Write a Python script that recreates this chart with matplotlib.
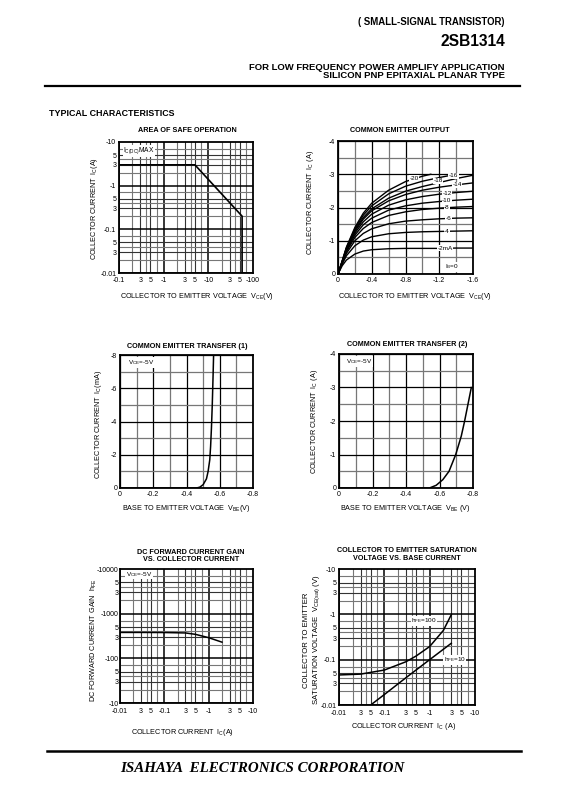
import matplotlib
matplotlib.use("Agg")
import matplotlib.pyplot as plt
from matplotlib.lines import Line2D

plt.rcParams['font.family'] = ['Liberation Sans', 'DejaVu Sans']
plt.rcParams['mathtext.fontset'] = 'custom'
plt.rcParams['mathtext.rm'] = 'Liberation Sans'
plt.rcParams['mathtext.it'] = 'Liberation Sans'

# ---------------- data ----------------
# Area of safe operation
soa_vce = [0.1, 5, 57, 57]
soa_ic = [3, 3, 0.2, 0.01]

# Common emitter output (Vce in V, Ic in A) for each Ib (mA)
ceo_v = [0, 0.05, 0.1, 0.2, 0.3, 0.4, 0.6, 0.8, 1.0, 1.2, 1.4, 1.6]
ceo_ib0 = [0] * 12
ceo_ib2 = [0, 0.25, 0.42, 0.60, 0.69, 0.73, 0.76, 0.77, 0.77, 0.77, 0.78, 0.78]
ceo_ib4 = [0, 0.30, 0.55, 0.85, 1.02, 1.12, 1.21, 1.25, 1.27, 1.28, 1.29, 1.30]
ceo_ib6 = [0, 0.32, 0.62, 1.00, 1.22, 1.36, 1.51, 1.59, 1.63, 1.66, 1.68, 1.69]
ceo_ib8 = [0, 0.34, 0.67, 1.10, 1.37, 1.55, 1.76, 1.87, 1.94, 1.98, 2.01, 2.03]
ceo_ib10 = [0, 0.35, 0.70, 1.17, 1.48, 1.68, 1.92, 2.05, 2.13, 2.18, 2.22, 2.25]
ceo_ib12 = [0, 0.36, 0.73, 1.23, 1.57, 1.80, 2.07, 2.23, 2.33, 2.40, 2.45, 2.49]
ceo_ib14 = [0, 0.37, 0.75, 1.28, 1.65, 1.90, 2.20, 2.39, 2.52, 2.61, 2.68, 2.74]
ceo_ib16 = [0, 0.38, 0.77, 1.32, 1.70, 1.96, 2.28, 2.49, 2.63, 2.75, 2.87, 2.97]
ceo_v18 = [0, 0.05, 0.1, 0.2, 0.3, 0.4, 0.6, 0.8, 1.0, 1.2, 1.4]
ceo_ib18 = [0, 0.39, 0.79, 1.36, 1.77, 2.05, 2.41, 2.64, 2.79, 2.90, 3.00]
ceo_v20 = [0, 0.05, 0.1, 0.2, 0.3, 0.4, 0.6, 0.8, 1.0, 1.1]
ceo_ib20 = [0, 0.40, 0.81, 1.40, 1.83, 2.13, 2.52, 2.78, 2.94, 3.00]
ceo_labels = ['-20', '-18', '-16', '-14', '-12', '-10', '-8', '-6', '-4', '-2mA', r'I$_{\mathrm{B}}$=0']
ceo_label_v = [0.90, 1.19, 1.37, 1.41, 1.29, 1.29, 1.29, 1.31, 1.29, 1.27, 1.35]
ceo_label_i = [2.88, 2.81, 2.95, 2.68, 2.43, 2.20, 2.00, 1.68, 1.29, 0.77, 0.22]

# Common emitter transfer (1): Vbe (V), Ic (mA)
cet1_vbe = [0.0, 0.46, 0.48, 0.50, 0.52, 0.53, 0.54, 0.545, 0.55, 0.555, 0.56, 0.563]
cet1_ic = [0.0, 0.0, 0.05, 0.2, 0.55, 1.0, 1.7, 2.5, 3.6, 5.0, 6.8, 8.0]

# Common emitter transfer (2): Vbe (V), Ic (A)
cet2_vbe = [0.0, 0.54, 0.58, 0.62, 0.657, 0.697, 0.73, 0.75, 0.77, 0.79]
cet2_ic = [0.0, 0.0, 0.08, 0.25, 0.5, 1.0, 1.55, 2.0, 2.5, 3.0]

# DC current gain: Ic (A), hFE
hfe_ic = [0.01, 0.03, 0.1, 0.3, 0.5, 1.0, 2.0]
hfe_val = [380, 380, 378, 370, 345, 290, 230]

# Vce(sat): Ic (A), Vce(sat) (V)
sat100_ic = [0.01, 0.03, 0.1, 0.3, 0.5, 1.0, 2.0, 3.0]
sat100_v = [0.046, 0.048, 0.059, 0.09, 0.12, 0.195, 0.44, 0.98]
sat10_ic = [0.05, 0.1, 0.3, 1.0, 3.0]
sat10_v = [0.01, 0.017, 0.04, 0.1, 0.23]

# tick labels
log_x_soa = [0.1, 0.3, 0.5, 1, 3, 5, 10, 30, 50, 100]
log_x_soa_lab = ['-0.1', '3', '5', '-1', '3', '5', '-10', '3', '5', '-100']
log_y_soa = [0.01, 0.03, 0.05, 0.1, 0.3, 0.5, 1, 3, 5, 10]
log_y_soa_lab = ['-0.01', '3', '5', '-0.1', '3', '5', '-1', '3', '5', '-10']
log_x_ic = [0.01, 0.03, 0.05, 0.1, 0.3, 0.5, 1, 3, 5, 10]
log_x_ic_lab = ['-0.01', '3', '5', '-0.1', '3', '5', '-1', '3', '5', '-10']
log_y_hfe = [10, 30, 50, 100, 300, 500, 1000, 3000, 5000, 10000]
log_y_hfe_lab = ['-10', '3', '5', '-100', '3', '5', '-1000', '3', '5', '-10000']

# ---------------- figure ----------------
W, H = 565, 792
fig = plt.figure(figsize=(W / 100, H / 100), dpi=100)


def ax_at(x0, y0, x1, y1):
    return fig.add_axes([x0 / W, 1 - y1 / H, (x1 - x0) / W, (y1 - y0) / H])


def txt(x, y, s, **kw):
    fig.text(x / W, 1 - y / H, s, **kw)


def hline(x0, x1, y, lw):
    fig.add_artist(Line2D([x0 / W, x1 / W], [1 - y / H, 1 - y / H], color='black', lw=lw))


def style(ax):
    for sp in ax.spines.values():
        sp.set_linewidth(1.3)
        sp.set_zorder(5)
    ax.tick_params(which='both', length=0, pad=2, labelsize=5.0)
    ax.set_axisbelow(True)


MINORS = [2, 3, 4, 5, 7]


def loggrid(ax, xd, yd):
    for d in xd:
        ax.axvline(d, color='black', lw=1.1, zorder=1)
        for m in MINORS:
            ax.axvline(d * m, color='#333333' if m in (3, 5) else '#777777', lw=0.8, zorder=1)
    for d in yd:
        ax.axhline(d, color='black', lw=1.1, zorder=1)
        for m in MINORS:
            ax.axhline(d * m, color='#333333' if m in (3, 5) else '#777777', lw=0.8, zorder=1)


def lingrid(ax, xs, ys, xmaj, ymaj):
    for i, v in enumerate(xs):
        ax.axvline(v, color='black' if i % xmaj == 0 else '#777777', lw=0.9, zorder=1)
    for i, v in enumerate(ys):
        ax.axhline(v, color='black' if i % ymaj == 0 else '#777777', lw=0.9, zorder=1)


TFS = 5.2
LFS = 5.2

# ---- header ----
txt(505, 22, '( SMALL-SIGNAL TRANSISTOR)', ha='right', va='center', fontsize=6.9, fontweight='bold')
txt(505, 42, '2SB1314', ha='right', va='center', fontsize=11.2, fontweight='bold')
txt(505, 67, 'FOR LOW FREQUENCY POWER AMPLIFY APPLICATION', ha='right', va='center', fontsize=6.8, fontweight='bold')
txt(505, 76, 'SILICON PNP EPITAXIAL PLANAR TYPE', ha='right', va='center', fontsize=6.8, fontweight='bold')
hline(45, 520, 85.5, 1.6)
txt(49, 113, 'TYPICAL CHARACTERISTICS', ha='left', va='center', fontsize=6.4, fontweight='bold')

# ---- 1: SOA ----
ax1 = ax_at(119, 142, 253, 273)
style(ax1)
ax1.set_xscale('log'); ax1.set_yscale('log')
ax1.set_xlim(0.1, 100); ax1.set_ylim(0.01, 10)
loggrid(ax1, [0.1, 1, 10], [0.01, 0.1, 1])
ax1.plot(soa_vce, soa_ic, color='black', lw=1.2, zorder=3)
ax1.set_xticks(log_x_soa, log_x_soa_lab); ax1.minorticks_off()
ax1.set_yticks(log_y_soa, log_y_soa_lab); ax1.minorticks_off()
ax1.tick_params(axis='x', pad=3)
ax1.text(0.125, 6.2, r'I$_{\mathrm{C(DC)}}$MAX', fontsize=4.8, va='center', ha='left',
         bbox=dict(facecolor='white', edgecolor='none', pad=0.5), zorder=4)
txt(187, 131, 'AREA OF SAFE OPERATION', ha='center', va='center', fontsize=TFS, fontweight='bold')
txt(197, 296, r'COLLECTOR TO EMITTER VOLTAGE  V$_{\mathrm{CE}}$(V)', ha='center', va='center', fontsize=LFS)
txt(94, 208, r'COLLECTOR CURRENT  I$_{\mathrm{C}}$(A)', ha='center', va='center', fontsize=LFS, rotation=90)

# ---- 2: CE output ----
ax2 = ax_at(338, 141, 473, 274)
style(ax2)
ax2.set_xlim(0, 1.6); ax2.set_ylim(0, 4)
lingrid(ax2, [0.2 * i for i in range(9)], [0.5 * i for i in range(9)], 2, 2)
curves = [(ceo_v, ceo_ib0), (ceo_v, ceo_ib2), (ceo_v, ceo_ib4), (ceo_v, ceo_ib6), (ceo_v, ceo_ib8),
          (ceo_v, ceo_ib10), (ceo_v, ceo_ib12), (ceo_v, ceo_ib14), (ceo_v, ceo_ib16),
          (ceo_v18, ceo_ib18), (ceo_v20, ceo_ib20)]
for xv, yv in curves:
    ax2.plot(xv, yv, color='black', lw=1.0, zorder=3)
for s, xv, yv in zip(ceo_labels, ceo_label_v, ceo_label_i):
    ax2.text(xv, yv, s, fontsize=4.6, ha='center', va='center', zorder=4,
             bbox=dict(facecolor='white', edgecolor='none', pad=0.3))
ax2.set_xticks([0, 0.4, 0.8, 1.2, 1.6], ['0', '-0.4', '-0.8', '-1.2', '-1.6'])
ax2.set_yticks([0, 1, 2, 3, 4], ['0', '-1', '-2', '-3', '-4'])
txt(400, 130, 'COMMON EMITTER OUTPUT', ha='center', va='center', fontsize=TFS, fontweight='bold')
txt(415, 296, r'COLLECTOR TO EMITTER VOLTAGE  V$_{\mathrm{CE}}$(V)', ha='center', va='center', fontsize=LFS)
txt(311, 202, r'COLLECTOR CURRENT  I$_{\mathrm{C}}$ (A)', ha='center', va='center', fontsize=LFS, rotation=90)

# ---- 3: CE transfer (1) ----
ax3 = ax_at(120, 355, 253, 488)
style(ax3)
ax3.set_xlim(0, 0.8); ax3.set_ylim(0, 8)
lingrid(ax3, [0.1 * i for i in range(9)], [1.0 * i for i in range(9)], 2, 2)
ax3.plot(cet1_vbe, cet1_ic, color='black', lw=1.1, zorder=3)
ax3.set_xticks([0, 0.2, 0.4, 0.6, 0.8], ['0', '-0.2', '-0.4', '-0.6', '-0.8'])
ax3.set_yticks([0, 2, 4, 6, 8], ['0', '-2', '-4', '-6', '-8'])
ax3.text(0.05, 7.55, r'V$_{\mathrm{CE}}$=-5V', fontsize=4.6, ha='left', va='center', zorder=4,
         bbox=dict(facecolor='white', edgecolor='none', pad=0.5))
txt(187, 346, 'COMMON EMITTER TRANSFER (1)', ha='center', va='center', fontsize=TFS, fontweight='bold')
txt(186, 509, r'BASE TO EMITTER VOLTAGE  V$_{\mathrm{BE}}$(V)', ha='center', va='center', fontsize=LFS)
txt(98, 424, r'COLLECTOR CURRENT  I$_{\mathrm{C}}$(mA)', ha='center', va='center', fontsize=LFS, rotation=90)

# ---- 4: CE transfer (2) ----
ax4 = ax_at(339, 354, 473, 488)
style(ax4)
ax4.set_xlim(0, 0.8); ax4.set_ylim(0, 4)
lingrid(ax4, [0.1 * i for i in range(9)], [0.5 * i for i in range(9)], 2, 2)
ax4.plot(cet2_vbe, cet2_ic, color='black', lw=1.1, zorder=3)
ax4.set_xticks([0, 0.2, 0.4, 0.6, 0.8], ['0', '-0.2', '-0.4', '-0.6', '-0.8'])
ax4.set_yticks([0, 1, 2, 3, 4], ['0', '-1', '-2', '-3', '-4'])
ax4.text(0.04, 3.78, r'V$_{\mathrm{CE}}$=-5V', fontsize=4.6, ha='left', va='center', zorder=4,
         bbox=dict(facecolor='white', edgecolor='none', pad=0.5))
txt(407, 345, 'COMMON EMITTER TRANSFER (2)', ha='center', va='center', fontsize=TFS, fontweight='bold')
txt(405, 509, r'BASE TO EMITTER VOLTAGE  V$_{\mathrm{BE}}$ (V)', ha='center', va='center', fontsize=LFS)
txt(315, 421, r'COLLECTOR CURRENT  I$_{\mathrm{C}}$ (A)', ha='center', va='center', fontsize=LFS, rotation=90)

# ---- 5: hFE ----
ax5 = ax_at(120, 569, 253, 703)
style(ax5)
ax5.set_xscale('log'); ax5.set_yscale('log')
ax5.set_xlim(0.01, 10); ax5.set_ylim(10, 10000)
loggrid(ax5, [0.01, 0.1, 1], [10, 100, 1000])
ax5.plot(hfe_ic, hfe_val, color='black', lw=1.1, zorder=3)
ax5.set_xticks(log_x_ic, log_x_ic_lab); ax5.minorticks_off()
ax5.set_yticks(log_y_hfe, log_y_hfe_lab); ax5.minorticks_off()
ax5.tick_params(axis='y', pad=1)
ax5.tick_params(axis='x', pad=3.5)
ax5.text(0.0135, 7600, r'V$_{\mathrm{CE}}$=-5V', fontsize=4.6, ha='left', va='center', zorder=4,
         bbox=dict(facecolor='white', edgecolor='none', pad=0.5))
txt(191, 552, 'DC FORWARD CURRENT GAIN', ha='center', va='center', fontsize=TFS, fontweight='bold')
txt(191, 559.5, 'VS. COLLECTOR CURRENT', ha='center', va='center', fontsize=TFS, fontweight='bold')
txt(183, 732, r'COLLECTOR CURRENT  I$_{\mathrm{C}}$(A)', ha='center', va='center', fontsize=LFS)
txt(94, 640, r'DC FORWARD CURRENT GAIN  h$_{\mathrm{FE}}$', ha='center', va='center', fontsize=LFS, rotation=90)

# ---- 6: Vce(sat) ----
ax6 = ax_at(339, 569, 475, 705)
style(ax6)
ax6.set_xscale('log'); ax6.set_yscale('log')
ax6.set_xlim(0.01, 10); ax6.set_ylim(0.01, 10)
loggrid(ax6, [0.01, 0.1, 1], [0.01, 0.1, 1])
ax6.plot(sat100_ic, sat100_v, color='black', lw=1.1, zorder=3)
ax6.plot(sat10_ic, sat10_v, color='black', lw=1.1, zorder=3)
ax6.set_xticks(log_x_ic, log_x_ic_lab); ax6.minorticks_off()
ax6.set_yticks(log_y_soa, log_y_soa_lab); ax6.minorticks_off()
ax6.tick_params(axis='x', pad=3.5)
ax6.text(0.75, 0.72, r'h$_{\mathrm{FE}}$=100', fontsize=4.6, ha='center', va='center', zorder=4,
         bbox=dict(facecolor='white', edgecolor='none', pad=0.3))
ax6.text(3.6, 0.1, r'h$_{\mathrm{FE}}$=10', fontsize=4.6, ha='center', va='center', zorder=4,
         bbox=dict(facecolor='white', edgecolor='none', pad=0.3))
txt(407, 551, 'COLLECTOR TO EMITTER SATURATION', ha='center', va='center', fontsize=TFS, fontweight='bold')
txt(407, 559, 'VOLTAGE VS. BASE CURRENT', ha='center', va='center', fontsize=TFS, fontweight='bold')
txt(404, 727, r'COLLECTOR CURRENT  I$_{\mathrm{C}}$ (A)', ha='center', va='center', fontsize=LFS)
txt(307, 640, 'COLLECTOR TO EMITTER', ha='center', va='center', fontsize=LFS + 0.4, rotation=90)
txt(317, 640, r'SATURATION VOLTAGE  V$_{\mathrm{CE(sat)}}$ (V)', ha='center', va='center', fontsize=LFS + 0.4, rotation=90)

# ---- footer ----
hline(47, 521, 751, 1.8)
txt(262, 768, 'ISAHAYA  ELECTRONICS CORPORATION', ha='center', va='center', fontsize=10.8,
    fontweight='bold', fontstyle='italic', family=['Liberation Serif', 'DejaVu Serif'])

fig.savefig('out.png', dpi=100)
